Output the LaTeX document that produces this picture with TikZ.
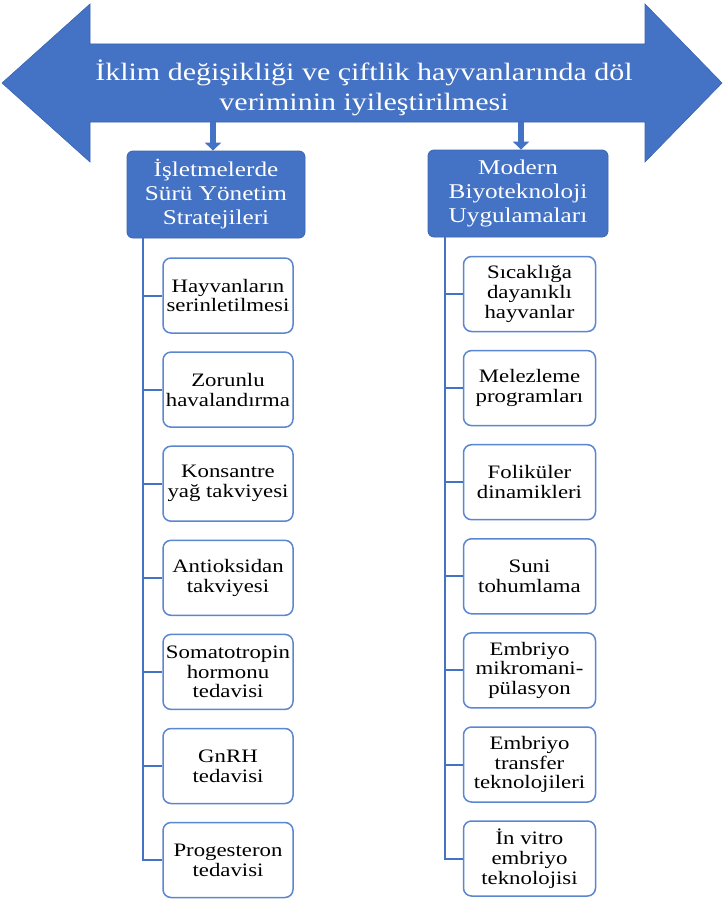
\documentclass[tikz,border=0pt]{standalone}
\usepackage{fontspec}
\setmainfont{Liberation Serif}[FakeStretch=1.2]
\usetikzlibrary{arrows.meta}
\definecolor{bar}{HTML}{4472C4}
\definecolor{barline}{HTML}{3A64B0}
\definecolor{leafline}{HTML}{5B86D0}
\begin{document}
\begin{tikzpicture}[x=1pt,y=-1pt,
  hdr/.style={fill=bar, draw=barline, line width=0.8pt, rounded corners=6pt,
    minimum width=178pt, minimum height=87pt, text=white, align=center,
    font=\fontsize{21}{24}\selectfont, inner sep=0pt},
  leaf/.style={fill=white, draw=leafline, line width=1.5pt, rounded corners=8pt,
    minimum width=130pt, minimum height=75pt, align=center,
    font=\fontsize{19}{19.8}\selectfont, inner sep=0pt},
  conn/.style={draw=bar, line width=2pt},
  drop/.style={draw=bar, line width=6pt, -{Triangle[width=16pt,length=8pt]}},
]
\useasboundingbox (0,0) rectangle (724,899);

% double-headed banner arrow
\path[fill=bar, draw=barline, line width=0.6pt]
  (2,83) -- (90,4) -- (90,44) -- (645,44) -- (645,4) -- (722,83)
  -- (645,162) -- (645,122) -- (90,122) -- (90,162) -- cycle;
\node[text=white, align=center, font=\fontsize{25}{30}\selectfont] (title) at (364,88)
  {İklim değişikliği ve çiftlik hayvanlarında döl\\veriminin iyileştirilmesi};

% the two branches
\node[hdr] (hl) at (216,194.5) {İşletmelerde\\Sürü Yönetim\\Stratejileri};
\node[hdr, minimum width=180pt] (hr) at (518,193.5) {Modern\\Biyoteknoloji\\Uygulamaları};

\coordinate (dl) at (213,122);
\coordinate (dr) at (521,122);
\draw[drop] (dl) -- (hl.north -| dl);
\draw[drop] (dr) -- (hr.north -| dr);

% left column
\node[leaf] (l1) at (228,295.5) {Hayvanların\\serinletilmesi};
\node[leaf] (l2) at (228,389.6) {Zorunlu\\havalandırma};
\node[leaf] (l3) at (228,483.7) {Konsantre\\yağ takviyesi};
\node[leaf] (l4) at (228,577.8) {Antioksidan\\takviyesi};
\node[leaf] (l5) at (228,671.9) {Somatotropin\\hormonu\\tedavisi};
\node[leaf] (l6) at (228,766) {GnRH\\tedavisi};
\node[leaf] (l7) at (228,860) {Progesteron\\tedavisi};

% right column
\node[leaf, minimum width=132pt] (r1) at (529.5,294) {Sıcaklığa\\dayanıklı\\hayvanlar};
\node[leaf, minimum width=132pt] (r2) at (529.5,388.1) {Melezleme\\programları};
\node[leaf, minimum width=132pt] (r3) at (529.5,482.2) {Foliküler\\dinamikleri};
\node[leaf, minimum width=132pt] (r4) at (529.5,576.3) {Suni\\tohumlama};
\node[leaf, minimum width=132pt] (r5) at (529.5,670.4) {Embriyo\\mikromani-\\pülasyon};
\node[leaf, minimum width=132pt] (r6) at (529.5,764.5) {Embriyo\\transfer\\teknolojileri};
\node[leaf, minimum width=132pt] (r7) at (529.5,858.5) {İn vitro\\embriyo\\teknolojisi};

% tree connectors
\coordinate (sl) at (143,0);
\coordinate (sr) at (445,0);
\foreach \i in {1,...,7} {
  \draw[conn] (hl.south -| sl) |- (l\i.west);
  \draw[conn] (hr.south -| sr) |- (r\i.west);
}
\end{tikzpicture}
\end{document}
